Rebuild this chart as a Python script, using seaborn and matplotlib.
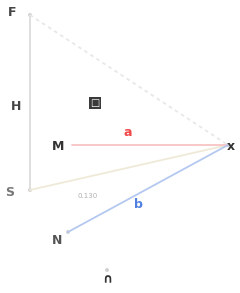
import matplotlib
matplotlib.use("Agg")
import matplotlib.pyplot as plt
import numpy as np
import pandas as pd
import seaborn as sns

# node positions (diagram units, y grows downward)
node_names = ["top", "base", "right", "low", "foot"]
node_x = [30, 30, 228, 68, 107]
node_y = [15, 190, 145, 232, 270]

# edges between nodes / anchor points
edge_start = ["top", "top", "base", "mid", "low"]
edge_end = ["base", "right", "right", "right", "right"]
edge_color = ["#dcdcdc", "#e8e8e8", "#efead8", "#f7c4c4", "#b4c8f0"]
edge_dash = ["", (2, 2), "", "", ""]
mid_x, mid_y = 72, 145

# labels: text, x, y, colour
label_text = ["F", "H", "□", "M", "x", "S", "0.130", "N", "∩", "a", "b"]
label_x = [12, 16, 95, 58, 231, 10, 88, 57, 107, 128, 138]
label_y = [12, 106, 103, 146, 146, 193, 196, 241, 280, 133, 204]
label_color = ["#444444", "#444444", "#ffffff", "#333333", "#333333", "#777777",
               "#b0b0b0", "#555555", "#333333", "#f04848", "#5080e0"]

pos = dict(zip(node_names, zip(node_x, node_y)))
pos["mid"] = (mid_x, mid_y)

sns.set_style("white")
fig = plt.figure(figsize=(2.4, 2.93), dpi=100)
ax = fig.add_axes([0, 0, 1, 1])

rows = []
for i, (s, e) in enumerate(zip(edge_start, edge_end)):
    for p in (s, e):
        rows.append({"edge": i, "x": pos[p][0], "y": pos[p][1]})
edges = pd.DataFrame(rows)
sns.lineplot(data=edges, x="x", y="y", hue="edge", palette=edge_color,
             style="edge", dashes=edge_dash,
             sort=False, estimator=None, legend=False, lw=1.3, ax=ax)

nodes = pd.DataFrame({"x": node_x, "y": node_y})
sns.scatterplot(data=nodes, x="x", y="y", color="#d0d0d0", s=8,
                edgecolor="none", legend=False, ax=ax)

for t, x, y, c in zip(label_text, label_x, label_y, label_color):
    if t == "□":
        ax.text(x, y, t, color=c, fontsize=7, ha="center", va="center",
                fontweight="bold",
                bbox=dict(boxstyle="square,pad=0.15", fc="#3a3a3a", ec="none"))
    elif t == "0.130":
        ax.text(x, y, t, color=c, fontsize=5, ha="center", va="center")
    else:
        ax.text(x, y, t, color=c, fontsize=9, ha="center", va="center",
                fontweight="bold")

ax.set_xlim(0, 240)
ax.set_ylim(293, 0)
ax.axis("off")
fig.savefig("out.png", dpi=100)
